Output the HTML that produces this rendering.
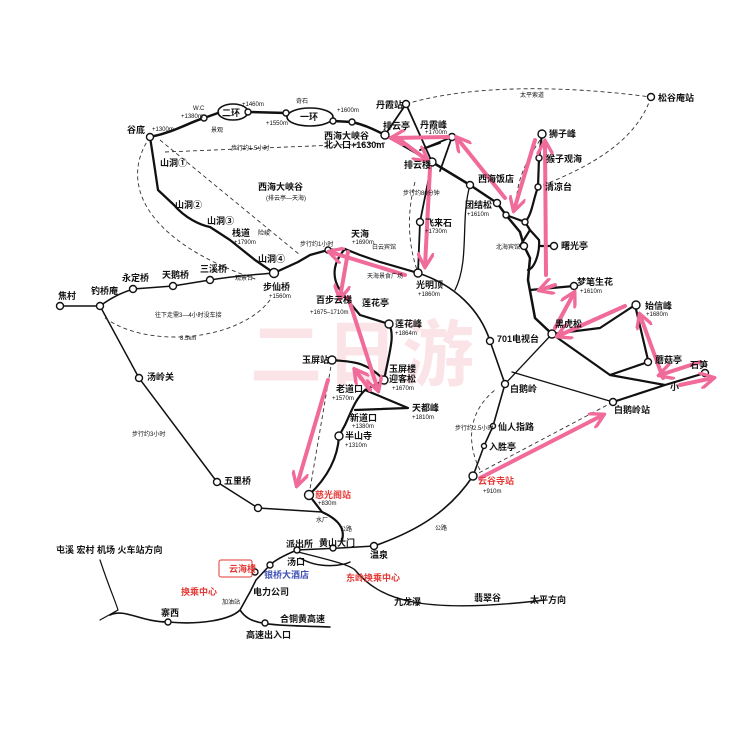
<!DOCTYPE html>
<html><head><meta charset="utf-8"><style>
html,body{margin:0;padding:0;background:#fff;}
svg{display:block;}
text{font-family:"Liberation Sans","Noto Sans CJK SC",sans-serif;fill:#111;}
.b{font-size:9px;font-weight:bold;}
.s{font-size:6px;}
.r{fill:#e53935;}
</style></head><body>
<svg width="740" height="740" viewBox="0 0 740 740" xmlns="http://www.w3.org/2000/svg">
<defs>
<marker id="a" viewBox="0 0 10 10" refX="8" refY="5" markerWidth="4.2" markerHeight="4.2" orient="auto"><path d="M0,0 L9,5 L0,10" fill="none" stroke="#f06a9a" stroke-width="2"/></marker>
</defs>
<text x="250" y="380" font-size="72" font-weight="bold" style="fill:#fbe4e8" letter-spacing="4">二日游</text>
<g fill="none" stroke="#111" stroke-linecap="round" stroke-linejoin="round">
<path d="M150,137 C175,132 190,122 204,118 L218,113 M248,112 L286,113 M333,121 L352,122 C365,125 375,130 385,135 L432,162 L470,185 L497,203 L506,215 L520,232 L524,246 L530,258 L528,280 L535,318 L552,334" stroke-width="2.5"/>
<ellipse cx="233" cy="112" rx="15" ry="8" stroke-width="1.6"/>
<ellipse cx="310" cy="117" rx="23" ry="9" stroke-width="1.6"/>
<path d="M150,137 L154,163 L158,190 L174,205 C185,218 200,225 210,227 L230,240 L255,260 L274,273 L298,262 L310,255 L328,250 L345,249" stroke-width="2.3"/>
<path d="M385,135 L406,104 L432,162 M452,137 L440,171 M432,162 L420,222 L418,273 M420,150 L440,143 M452,137 L420,150" stroke-width="1.8"/>
<path d="M506,215 L525,222 L530,230 L520,246 M538,187 L539,158 L542,134 M538,187 C533,200 532,215 525,222 M530,230 L539,240 C540,252 535,268 528,270 M539,246 L554,246" stroke-width="2.2"/>
<path d="M530,290 L574,286 M552,334 L600,328 L635,305 L648,360 M552,334 L610,375 L665,385 L705,373 M665,385 L613,402 M610,375 L648,362" stroke-width="2.2"/>
<path d="M418,273 C455,285 480,310 490,341 L505,384 L493,426 L484,446 L473,476 C450,510 420,530 374,546 L340,548 L297,550 C285,555 275,560 270,565 L256,580 L250,592 L240,610 C230,620 200,625 168,622 C140,622 125,608 110,615 M240,610 C250,625 265,625 330,627" stroke-width="1.6"/>
<path d="M505,384 L552,334 M512,372 L613,402 M470,185 C460,220 470,260 455,290" stroke-width="1.3"/>
<path d="M328,250 L345,249 L360,255 L380,262 L418,273 M345,249 C335,260 330,275 340,290 L350,303 L360,315 L389,324 C395,335 390,350 384,380 L375,385 L365,390 L408,408 L355,410 M332,360 C350,362 365,360 384,380 M365,390 C355,400 352,410 345,425 L339,436 C338,455 330,475 309,495 L322,512 C340,520 345,530 342,540" stroke-width="2.2"/>
<path d="M60,306 L100,306 C115,295 125,292 133,289 L173,286 L210,280 C240,275 265,274 274,273 M100,306 L139,378 L217,482 L258,508 L322,512" stroke-width="1.5"/>
<path d="M300,558 C320,570 345,565 350,562 M298,552 C330,560 350,565 355,570 C380,600 420,615 545,600" stroke-width="1.4"/>
<path d="M100,560 C110,590 115,600 118,610 L110,615 M100,620 L118,610" stroke-width="1.2"/>
</g>
<g fill="none" stroke="#333" stroke-width="0.9" stroke-dasharray="4,3">
<path d="M406,104 C470,85 560,85 651,97"/>
<path d="M651,97 C640,130 610,160 538,187"/>
<path d="M150,137 C120,180 140,240 258,280"/>
<path d="M160,140 L300,255"/>
<path d="M165,152 L385,143"/>
<path d="M105,318 C150,350 240,340 270,300"/>
<path d="M415,182 C405,220 410,250 418,273"/>
<path d="M332,360 L309,495"/>
<path d="M473,476 L613,402"/>
<path d="M480,470 C465,440 470,410 495,390"/>
<path d="M540,140 C520,170 515,190 517,210"/>
</g>
<g fill="#fff" stroke="#111" stroke-width="1.4">
<circle cx="150" cy="137" r="3.5"/><circle cx="204" cy="118" r="3"/><circle cx="248" cy="112" r="3"/><circle cx="286" cy="113" r="3"/><circle cx="333" cy="121" r="3"/><circle cx="352" cy="122" r="3"/><circle cx="385" cy="135" r="4"/><circle cx="406" cy="104" r="3.5"/><circle cx="452" cy="137" r="3.5"/><circle cx="432" cy="162" r="4"/><circle cx="420" cy="222" r="3.5"/><circle cx="418" cy="273" r="4"/><circle cx="328" cy="250" r="3"/><circle cx="274" cy="273" r="4.5"/><circle cx="470" cy="185" r="3.5"/><circle cx="497" cy="203" r="3.5"/><circle cx="506" cy="215" r="3"/><circle cx="542" cy="134" r="4"/><circle cx="539" cy="158" r="3"/><circle cx="538" cy="187" r="3"/><circle cx="651" cy="97" r="3.5"/><circle cx="525" cy="222" r="3"/><circle cx="524" cy="246" r="3.5"/><circle cx="554" cy="246" r="3.5"/><circle cx="574" cy="286" r="3.5"/><circle cx="552" cy="334" r="4"/><circle cx="636" cy="305" r="4"/><circle cx="648" cy="362" r="3.5"/><circle cx="705" cy="373" r="3.5"/><circle cx="613" cy="402" r="3.5"/><circle cx="490" cy="341" r="3.5"/><circle cx="505" cy="384" r="3.5"/><circle cx="493" cy="426" r="2.5"/><circle cx="484" cy="446" r="2.5"/><circle cx="473" cy="476" r="4"/><circle cx="389" cy="324" r="4"/><circle cx="384" cy="380" r="4"/><circle cx="332" cy="360" r="4"/><circle cx="339" cy="436" r="4"/><circle cx="309" cy="495" r="4.5"/><circle cx="100" cy="306" r="3.5"/><circle cx="133" cy="289" r="3.5"/><circle cx="173" cy="286" r="3.5"/><circle cx="210" cy="280" r="3.5"/><circle cx="60" cy="306" r="3.5"/><circle cx="139" cy="378" r="3.5"/><circle cx="217" cy="482" r="3.5"/><circle cx="258" cy="508" r="3.5"/><circle cx="374" cy="546" r="3.5"/><circle cx="297" cy="550" r="3"/><circle cx="333" cy="548" r="3"/><circle cx="270" cy="565" r="3"/><circle cx="255" cy="572" r="3"/><circle cx="168" cy="622" r="3"/><circle cx="265" cy="623" r="3"/>
</g>
<g fill="none" stroke="#f06a9a" stroke-width="4" marker-end="url(#a)" stroke-linecap="round">
<path d="M448,137 L392,138"/><path d="M400,140 L427,160"/><path d="M430,168 L425,266"/><path d="M405,275 L330,252"/><path d="M348,252 L340,298"/><path d="M348,297 L378,390"/><path d="M370,390 L355,370"/><path d="M328,380 L297,485"/><path d="M505,198 L457,138"/><path d="M535,140 L514,210"/><path d="M546,275 L545,142"/><path d="M555,285 L540,290"/><path d="M555,328 L574,293"/><path d="M625,306 L558,336"/><path d="M663,378 L640,315"/><path d="M700,362 L660,375"/><path d="M680,385 L713,378"/><path d="M480,478 L603,415"/>
</g>
<g>
<text class="b" x="127" y="133">谷底</text><text class="s" x="152" y="131">+1300m</text>
<text class="s" x="193" y="110">W.C</text><text class="s" x="181" y="118">+1380m</text>
<text class="b" x="222" y="116">二环</text><text class="s" x="242" y="106">+1460m</text><text class="s" x="266" y="125">+1550m</text>
<text class="b" x="300" y="120">一环</text><text class="s" x="296" y="103">奇石</text><text class="s" x="337" y="112">+1600m</text>
<text class="s" x="211" y="132">景观</text>
<text class="b" x="324" y="139">西海大峡谷</text><text class="b" x="324" y="148">北入口+1630m</text>
<text class="b" x="383" y="129">排云亭</text><text class="b" x="376" y="108">丹霞站</text>
<text class="b" x="420" y="128">丹霞峰</text><text class="s" x="425" y="134">+1700m</text>
<text class="b" x="404" y="168">排云楼</text>
<text class="s" x="231" y="150">步行约1.5小时</text>
<text class="b" x="160" y="166">山洞①</text><text class="b" x="175" y="208">山洞②</text><text class="b" x="207" y="224">山洞③</text>
<text class="b" x="232" y="236">栈道</text><text class="s" x="258" y="235">险峻</text><text class="s" x="234" y="244">+1790m</text>
<text class="b" x="258" y="262">山洞④</text>
<text class="b" x="258" y="190" font-size="12">西海大峡谷</text><text class="s" x="266" y="200">(排云亭—天海)</text>
<text class="b" x="263" y="290">步仙桥</text><text class="s" x="269" y="298">+1560m</text>
<text class="s" x="235" y="280">观景台</text>
<text class="s" x="300" y="246">步行约1小时</text>
<text class="b" x="351" y="237">天海</text><text class="s" x="352" y="244">+1690m</text>
<text class="s" x="372" y="249">白云宾馆</text><text class="s" x="367" y="278">天海景食广场</text>
<text class="b" x="416" y="288">光明顶</text><text class="s" x="418" y="296">+1860m</text>
<text class="b" x="425" y="226">飞来石</text><text class="s" x="425" y="233">+1730m</text>
<text class="s" x="403" y="195">步行约80分钟</text>
<text class="b" x="478" y="182">西海饭店</text><text class="b" x="465" y="208">团结松</text><text class="s" x="467" y="216">+1610m</text>
<text class="b" x="549" y="137">狮子峰</text><text class="b" x="546" y="162">猴子观海</text><text class="b" x="545" y="190">清凉台</text>
<text class="b" x="658" y="101">松谷庵站</text><text class="s" x="520" y="97">太平索道</text>
<text class="s" x="496" y="249">北海宾馆</text><text class="b" x="561" y="249">曙光亭</text>
<text class="b" x="577" y="285">梦笔生花</text><text class="s" x="580" y="293">+1610m</text>
<text class="b" x="555" y="327">黑虎松</text>
<text class="b" x="645" y="309">始信峰</text><text class="s" x="646" y="316">+1680m</text>
<text class="b" x="655" y="363">蘑菇亭</text><text class="b" x="690" y="368">石笋</text><text class="b" x="670" y="390">小</text>
<text class="b" x="497" y="342">701电视台</text><text class="b" x="510" y="392">白鹅岭</text>
<text class="b" x="614" y="413">白鹅岭站</text>
<text class="b" x="498" y="430">仙人指路</text><text class="b" x="489" y="450">入胜亭</text>
<text class="b r" x="478" y="484">云谷寺站</text><text class="s" x="483" y="493">+910m</text>
<text class="s" x="455" y="430">步行约2.5小时</text>
<text class="b" x="316" y="303">百步云梯</text><text class="s" x="310" y="314">+1675–1710m</text>
<text class="b" x="362" y="306">莲花亭</text>
<text class="b" x="395" y="327">莲花峰</text><text class="s" x="395" y="335">+1864m</text>
<text class="b" x="302" y="363">玉屏站</text>
<text class="b" x="389" y="372">玉屏楼</text><text class="b" x="389" y="382">迎客松</text><text class="s" x="392" y="390">+1670m</text>
<text class="b" x="336" y="392">老道口</text><text class="s" x="332" y="400">+1570m</text>
<text class="b" x="412" y="411">天都峰</text><text class="s" x="412" y="419">+1810m</text>
<text class="b" x="350" y="421">新道口</text><text class="s" x="352" y="428">+1380m</text>
<text class="b" x="345" y="439">半山寺</text><text class="s" x="345" y="447">+1310m</text>
<text class="b r" x="315" y="498">慈光阁站</text><text class="s" x="318" y="505">+830m</text>
<text class="s" x="316" y="522">水厂</text><text class="s" x="340" y="531">公路</text><text class="s" x="435" y="530">公路</text>
<text class="b" x="58" y="299">焦村</text><text class="b" x="91" y="294">钓桥庵</text><text class="b" x="122" y="281">永定桥</text><text class="b" x="162" y="278">天鹅桥</text><text class="b" x="200" y="272">三溪桥</text>
<text class="s" x="155" y="317">往下走需3—4小时没车接</text><text class="s" x="180" y="340">8.5km</text>
<text class="b" x="147" y="380">汤岭关</text><text class="s" x="132" y="436">步行约3小时</text>
<text class="b" x="224" y="484">五里桥</text>
<text class="b" x="286" y="547">派出所</text><text class="b" x="319" y="546">黄山大门</text>
<text class="b" x="370" y="558">温泉</text><text class="b" x="287" y="565">汤口</text>
<text class="b" x="56" y="553">屯溪 宏村 机场 火车站方向</text>
<rect x="219" y="560" width="33" height="17" fill="none" stroke="#e53935" rx="2"/><text class="b r" x="229" y="572">云海楼</text>
<text class="b" x="264" y="578" style="fill:#3f51b5">银桥大酒店</text>
<text class="b r" x="181" y="595">换乘中心</text><text class="b r" x="346" y="581">东岭换乘中心</text>
<text class="b" x="253" y="595">电力公司</text><text class="s" x="222" y="604">加油站</text>
<text class="b" x="161" y="616">寨西</text><text class="b" x="280" y="622">合铜黄高速</text>
<text class="b" x="246" y="638">高速出入口</text>
<text class="b" x="394" y="605">九龙瀑</text><text class="b" x="474" y="601">翡翠谷</text><text class="b" x="530" y="603">太平方向</text>
</g>
</svg>
</body></html>
